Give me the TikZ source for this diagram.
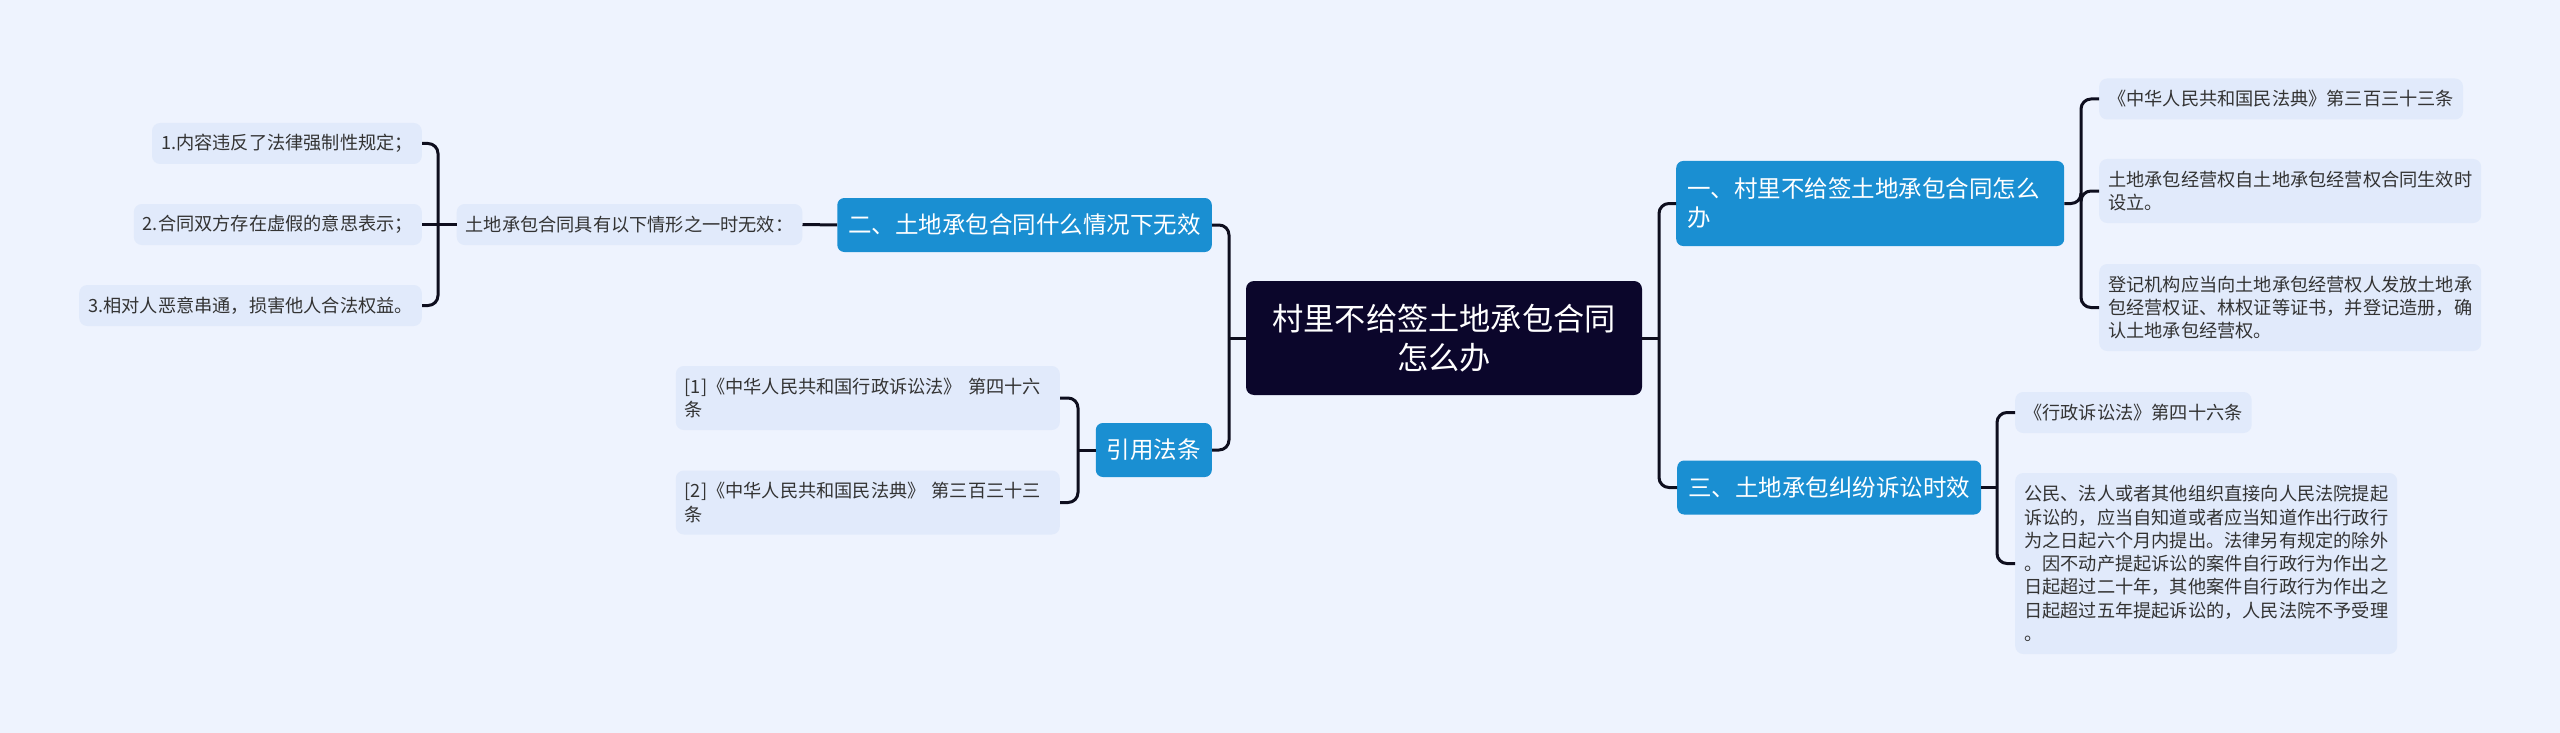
\documentclass[tikz,border=0pt]{standalone}
\usepackage{fontspec}
\setmainfont{Noto Sans CJK SC}
\usepackage{tikz}
\usepackage{xcolor}
\definecolor{bgblue}{RGB}{238,243,254}
\definecolor{leafblue}{RGB}{225,234,251}
\definecolor{topicblue}{RGB}{26,143,210}
\definecolor{rootnavy}{RGB}{11,6,43}
\definecolor{linkdark}{RGB}{14,14,30}
\definecolor{leaftext}{RGB}{51,51,51}

\begin{document}
\begin{tikzpicture}[x=1pt,y=-1pt]
	\tikzstyle{edge} = [draw=linkdark, line width=3, rounded corners=10]
	\tikzstyle{root} = [fill=rootnavy, text=white, rounded corners=8, font=\fontsize{31.2}{39}\selectfont, align=center, minimum width=396, minimum height=114, inner sep=0]
	\tikzstyle{topic} = [fill=topicblue, text=white, rounded corners=7, font=\fontsize{23.5}{29}\selectfont, inner xsep=11, inner ysep=0, minimum height=54]
	\tikzstyle{leaf} = [fill=leafblue, text=leaftext, rounded corners=8, font=\fontsize{18.2}{23.3}\selectfont, inner xsep=9, inner ysep=0, minimum height=41]
	\fill[bgblue] (0,0) rectangle (2560,733);
		\node[root] (r) at (1444,338) {村里不给签土地承包合同\\怎么办};
		\node[topic, anchor=west, text width=366, align=left, minimum height=85] (t1) at (1676,203.5) {一、村里不给签土地承包合同怎么\\办};
		\node[topic, anchor=west] (t3) at (1677,487.5) {三、土地承包纠纷诉讼时效};
		\node[topic, anchor=east] (t2) at (1212,225) {二、土地承包合同什么情况下无效};
		\node[topic, anchor=east] (t4) at (1212,450) {引用法条};
		\node[leaf, anchor=west] (a1) at (2099,99) {《中华人民共和国民法典》第三百三十三条};
		\node[leaf, anchor=west, text width=364, align=left, minimum height=64] (a2) at (2099,191) {土地承包经营权自土地承包经营权合同生效时\\设立。};
		\node[leaf, anchor=west, text width=364, align=left, minimum height=87] (a3) at (2099,307.5) {登记机构应当向土地承包经营权人发放土地承\\包经营权证、林权证等证书，并登记造册，确\\认土地承包经营权。};
		\node[leaf, anchor=west] (c1) at (2015,412.5) {《行政诉讼法》第四十六条};
		\node[leaf, anchor=west, text width=364, align=left, minimum height=181] (c2) at (2015,563.5) {公民、法人或者其他组织直接向人民法院提起\\诉讼的，应当自知道或者应当知道作出行政行\\为之日起六个月内提出。法律另有规定的除外\\。因不动产提起诉讼的案件自行政行为作出之\\日起超过二十年，其他案件自行政行为作出之\\日起超过五年提起诉讼的，人民法院不予受理\\。};
		\node[leaf] (b0) at (629.5,224.5) {土地承包合同具有以下情形之一时无效：};
		\node[leaf, anchor=east] (b1) at (422,143.5) {1.内容违反了法律强制性规定；};
		\node[leaf, anchor=east] (b2) at (422,224.5) {2.合同双方存在虚假的意思表示；};
		\node[leaf, anchor=east] (b3) at (422,305.5) {3.相对人恶意串通，损害他人合法权益。};
		\node[leaf, anchor=east, text width=366, align=left, minimum height=64] (d1) at (1060,398) {[1]《中华人民共和国行政诉讼法》 第四十六\\条};
		\node[leaf, anchor=east, text width=366, align=left, minimum height=64] (d2) at (1060,502.5) {[2]《中华人民共和国民法典》 第三百三十三\\条};
	\coordinate (hubL) at (1229,338);
	\coordinate (hubR) at (1659,338);
	\coordinate (hub1) at (2081,203.5);
	\coordinate (hub3) at (1997,487.5);
	\coordinate (hub2) at (438,224.5);
	\coordinate (hub4) at (1078,450);
	\draw[edge] (t2.east) -| (hubL) |- (t4.east);
	\draw[edge] (r.west) -- (hubL);
	\draw[edge] (t1.west) -| (hubR) |- (t3.west);
	\draw[edge] (r.east) -- (hubR);
	\draw[edge] (a1.west) -| (hub1) |- (a3.west);
	\draw[edge] (t1.east) -- (hub1) |- (a2.west);
	\draw[edge] (c1.west) -| (hub3) |- (c2.west);
	\draw[edge] (t3.east) -- (hub3);
	\draw[edge] (b1.east) -| (hub2) |- (b3.east);
	\draw[edge] (b2.east) -- (b0.west);
	\draw[edge] (b0.east) -- (t2.west);
	\draw[edge] (d1.east) -| (hub4) |- (d2.east);
	\draw[edge] (t4.west) -- (hub4);
	\end{tikzpicture}
\end{document}
